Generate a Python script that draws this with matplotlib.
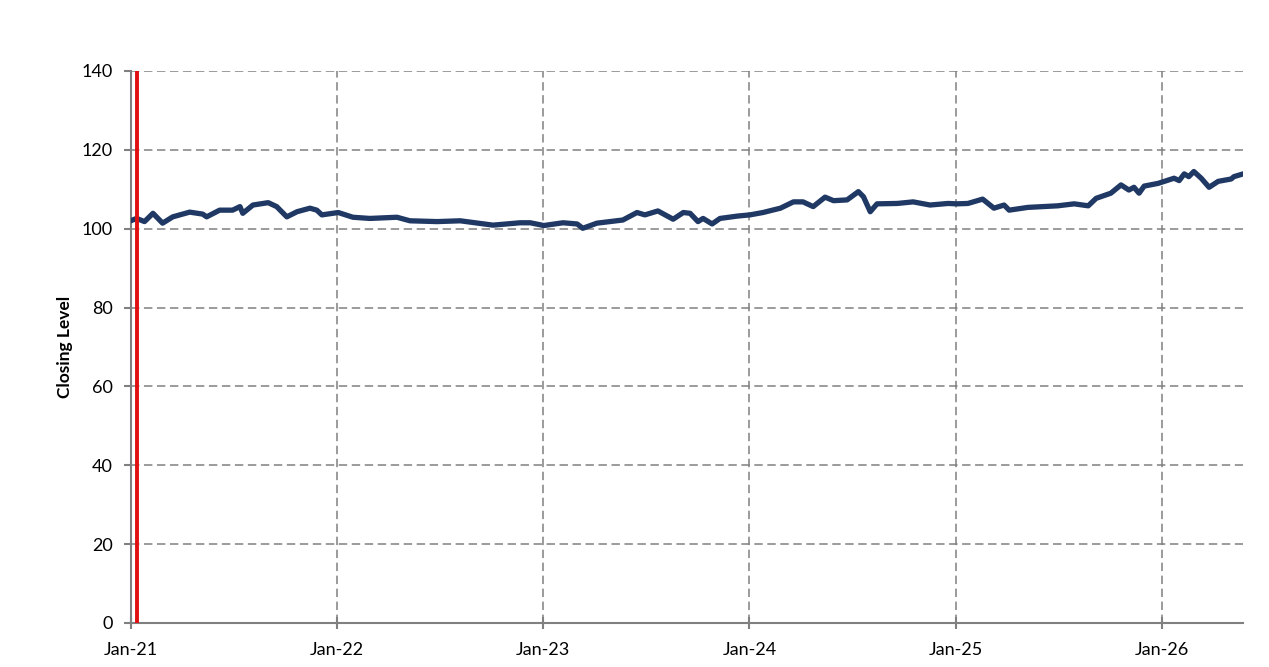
import pandas as pd
import matplotlib
matplotlib.use("Agg")
import matplotlib.pyplot as plt
import matplotlib.dates as mdates

# Data
dates = [
    "2021-01-04", "2021-01-11", "2021-01-25", "2021-02-09", "2021-02-26", "2021-03-16",
    "2021-04-15", "2021-05-08", "2021-05-15", "2021-06-07", "2021-06-30", "2021-07-13",
    "2021-07-18", "2021-08-05", "2021-09-01", "2021-09-16", "2021-10-04", "2021-10-22",
    "2021-11-14", "2021-11-26", "2021-12-05", "2022-01-03", "2022-01-29", "2022-02-28",
    "2022-04-17", "2022-05-10", "2022-06-27", "2022-08-07", "2022-10-04", "2022-11-21",
    "2022-12-09", "2023-01-02", "2023-02-05", "2023-03-02", "2023-03-12", "2023-04-06",
    "2023-04-29", "2023-05-22", "2023-06-16", "2023-06-30", "2023-07-23", "2023-08-19",
    "2023-09-06", "2023-09-18", "2023-10-02", "2023-10-11", "2023-10-27", "2023-11-10",
    "2023-12-11", "2024-01-02", "2024-01-25", "2024-02-25", "2024-03-19", "2024-04-05",
    "2024-04-23", "2024-05-14", "2024-05-29", "2024-06-22", "2024-07-12", "2024-07-21",
    "2024-08-02", "2024-08-14", "2024-09-19", "2024-10-17", "2024-11-16", "2024-12-18",
    "2025-01-02", "2025-01-22", "2025-02-17", "2025-03-09", "2025-03-27", "2025-04-05",
    "2025-05-08", "2025-06-30", "2025-07-29", "2025-08-23", "2025-09-06", "2025-10-02",
    "2025-10-20", "2025-11-03", "2025-11-12", "2025-11-21", "2025-11-30", "2025-12-25",
    "2026-01-22", "2026-01-31", "2026-02-09", "2026-02-17", "2026-02-26", "2026-03-11",
    "2026-03-25", "2026-04-10", "2026-05-03", "2026-05-08", "2026-05-22",
]
closing = [
    102.2, 102.6, 101.8, 103.9, 101.4, 103.0,
    104.2, 103.7, 103.0, 104.7, 104.7, 105.6,
    103.9, 106.0, 106.6, 105.6, 103.0, 104.3,
    105.2, 104.7, 103.5, 104.1, 102.9, 102.6,
    102.9, 102.0, 101.8, 102.0, 100.9, 101.5,
    101.5, 100.8, 101.5, 101.2, 100.1, 101.4,
    101.8, 102.2, 104.1, 103.5, 104.5, 102.4,
    104.1, 103.9, 101.8, 102.6, 101.2, 102.6,
    103.2, 103.5, 104.1, 105.2, 106.8, 106.8,
    105.6, 108.0, 107.1, 107.3, 109.4, 108.1,
    104.3, 106.3, 106.4, 106.8, 106.0, 106.4,
    106.3, 106.4, 107.5, 105.2, 106.0, 104.7,
    105.4, 105.8, 106.3, 105.8, 107.7, 109.0,
    111.1, 109.8, 110.5, 109.0, 110.8, 111.5,
    112.8, 112.2, 113.9, 113.2, 114.5, 112.8,
    110.5, 112.0, 112.6, 113.2, 113.8,
]
marker_date = "2021-01-12"
x_start = "2021-01-01"
x_end = "2026-05-24"
tick_dates = ["2021-01-01", "2022-01-01", "2023-01-01", "2024-01-01", "2025-01-01", "2026-01-01"]

dates = pd.to_datetime(dates)

plt.rcParams['font.family'] = ['Lato', 'DejaVu Sans']

fig = plt.figure(figsize=(12.69, 6.67), dpi=100)
ax = fig.add_axes([0.1032, 0.066, 0.8763, 0.8276])

ax.plot(dates, closing, color="#1F3864", linewidth=3.8, solid_joinstyle="round", zorder=3)
ax.axvline(pd.Timestamp(marker_date), color="#E01010", linewidth=2.8, zorder=4)

ax.set_xlim(pd.Timestamp(x_start), pd.Timestamp(x_end))
ax.set_ylim(0, 140)
ax.set_yticks(range(0, 141, 20))
ax.set_xticks(pd.to_datetime(tick_dates))
ax.xaxis.set_major_formatter(mdates.DateFormatter("%b-%y"))

ax.grid(True, color="#808080", linestyle=(0, (5.5, 3)), linewidth=1.1)
ax.set_axisbelow(True)

for s in ["top", "right"]:
    ax.spines[s].set_visible(False)
for s in ["left", "bottom"]:
    ax.spines[s].set_color("#808080")
    ax.spines[s].set_linewidth(1.5)

ax.tick_params(axis="x", direction="inout", length=9, width=1.5, color="#808080",
               labelsize=13, pad=9)
ax.tick_params(axis="y", direction="out", length=5, width=1.5, color="#808080",
               labelsize=13, pad=8)

ax.set_ylabel("Closing Level", fontsize=12.5, fontweight="bold", labelpad=6)

fig.savefig("out.png", dpi=100)
